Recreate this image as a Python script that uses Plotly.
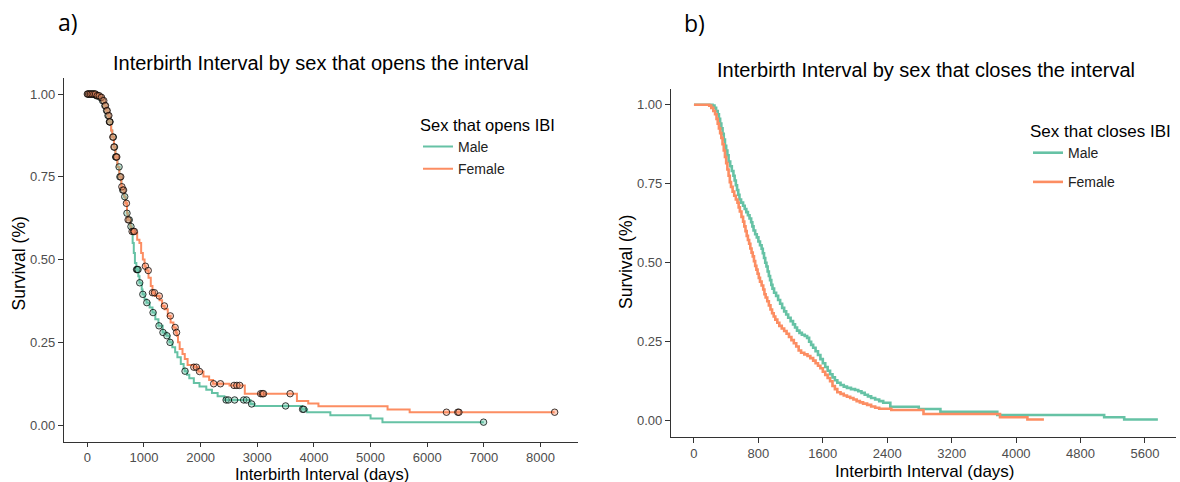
import numpy as np
import plotly.graph_objects as go

# ---------------- Panel a: sex that opens the interval ----------------
a_male_t = [0, 150, 220, 260, 300, 330, 360, 385, 420, 440, 470, 495, 530, 565, 600, 620, 650, 675, 700, 715,
            760, 780, 800, 820, 840, 865, 900, 920, 960, 975, 1010, 1045, 1100, 1150, 1200, 1255, 1330, 1400,
            1450, 1500, 1550, 1590, 1650, 1700, 1720, 1760, 1800, 1880, 1980, 2100, 2200, 2300, 2420, 2880,
            2950, 3790, 3880, 4290, 5000, 5210]
a_male_s = [1.0, 0.995, 0.99, 0.98, 0.965, 0.95, 0.935, 0.916, 0.89, 0.87, 0.84, 0.81, 0.78, 0.75, 0.72, 0.71,
            0.69, 0.67, 0.64, 0.62, 0.60, 0.59, 0.55, 0.52, 0.49, 0.47, 0.45, 0.43, 0.41, 0.395, 0.38, 0.37,
            0.355, 0.34, 0.32, 0.30, 0.28, 0.27, 0.25, 0.235, 0.22, 0.205, 0.185, 0.17, 0.163, 0.152, 0.142,
            0.127, 0.117, 0.107, 0.097, 0.087, 0.076, 0.064, 0.058, 0.048, 0.039, 0.03, 0.02, 0.009]
a_male_end = 7000
a_male_cens = [10, 40, 70, 100, 130, 160, 190, 230, 270, 310, 340, 365, 390, 400, 460, 480, 500, 560, 575, 625,
               660, 700, 740, 770, 870, 880, 895, 925, 980, 1050, 1160, 1265, 1335, 1405, 1460, 1725, 2450,
               2490, 2600, 2760, 2810, 2900, 3500, 3800, 3820, 6995]

a_female_t = [0, 150, 220, 260, 300, 330, 360, 385, 420, 440, 470, 495, 530, 565, 600, 620, 650, 675, 700, 715,
              760, 780, 835, 880, 920, 950, 980, 1010, 1030, 1080, 1120, 1150, 1190, 1275, 1320, 1365, 1420,
              1470, 1520, 1560, 1580, 1600, 1630, 1680, 1720, 1770, 1880, 1960, 2050, 2150, 2220, 2510, 2780,
              3700, 3900, 4080, 5300, 5690]
a_female_s = [1.0, 0.995, 0.99, 0.98, 0.965, 0.95, 0.935, 0.916, 0.89, 0.87, 0.84, 0.81, 0.78, 0.75, 0.72, 0.71,
              0.69, 0.67, 0.64, 0.62, 0.60, 0.585, 0.58, 0.56, 0.55, 0.52, 0.50, 0.48, 0.467, 0.445, 0.42, 0.40,
              0.39, 0.377, 0.36, 0.35, 0.33, 0.31, 0.295, 0.28, 0.27, 0.25, 0.23, 0.215, 0.20, 0.182, 0.175,
              0.162, 0.147, 0.136, 0.125, 0.12, 0.095, 0.073, 0.065, 0.057, 0.047, 0.039]
a_female_end = 8250
a_female_cens = [0, 25, 55, 85, 115, 145, 175, 210, 250, 290, 320, 350, 380, 395, 450, 470, 510, 520, 590, 610,
                 640, 690, 720, 790, 815, 830, 1025, 1075, 1150, 1185, 1270, 1360, 1465, 1550, 1575, 1880, 1925,
                 1980, 2230, 2350, 2590, 2640, 2690, 3060, 3090, 3110, 3580, 6340, 6540, 6560, 8250]

# ---------------- Panel b: sex that closes the interval ----------------
b_male_t = [0, 230, 255, 275, 295, 310, 325, 340, 355, 370, 385, 400, 415, 430, 450, 470, 490, 505, 520, 535,
            550, 565, 585, 610, 630, 650, 670, 690, 710, 725, 740, 760, 780, 800, 820, 840, 855, 870, 885, 900,
            915, 930, 945, 960, 975, 995, 1020, 1045, 1070, 1095, 1120, 1145, 1170, 1200, 1230, 1255, 1280,
            1310, 1340, 1375, 1405, 1430, 1455, 1480, 1510, 1540, 1570, 1600, 1630, 1660, 1690, 1720, 1750,
            1780, 1820, 1860, 1900, 1950, 2000, 2040, 2080, 2120, 2160, 2200, 2250, 2300, 2350, 2438, 2791,
            3060, 3766, 5093, 5342]
b_male_s = [1.0, 0.997, 0.99, 0.98, 0.97, 0.955, 0.94, 0.925, 0.908, 0.89, 0.87, 0.855, 0.84, 0.82, 0.805,
            0.79, 0.775, 0.76, 0.745, 0.73, 0.715, 0.70, 0.69, 0.68, 0.67, 0.66, 0.65, 0.64, 0.628, 0.615,
            0.602, 0.59, 0.58, 0.567, 0.555, 0.544, 0.53, 0.515, 0.50, 0.488, 0.472, 0.458, 0.445, 0.43,
            0.418, 0.405, 0.395, 0.382, 0.37, 0.357, 0.346, 0.336, 0.326, 0.315, 0.305, 0.295, 0.285, 0.278,
            0.272, 0.268, 0.262, 0.25, 0.24, 0.231, 0.22, 0.208, 0.195, 0.182, 0.17, 0.158, 0.147, 0.137,
            0.128, 0.12, 0.113, 0.108, 0.104, 0.10, 0.097, 0.093, 0.088, 0.082, 0.077, 0.072, 0.067, 0.062,
            0.057, 0.044, 0.037, 0.028, 0.018, 0.011, 0.004]
b_male_end = 5760

b_female_t = [0, 190, 215, 240, 262, 280, 295, 310, 325, 340, 355, 370, 385, 400, 415, 430, 445, 460, 480, 500,
              520, 540, 555, 570, 590, 610, 625, 640, 655, 670, 685, 700, 715, 730, 745, 760, 775, 790, 805,
              820, 840, 860, 875, 890, 910, 930, 950, 970, 990, 1010, 1035, 1060, 1090, 1120, 1150, 1180, 1210,
              1240, 1270, 1300, 1330, 1370, 1410, 1445, 1480, 1510, 1540, 1570, 1600, 1630, 1660, 1690, 1720,
              1750, 1780, 1820, 1860, 1900, 1940, 1980, 2020, 2060, 2100, 2150, 2200, 2250, 2300, 2450, 2850,
              3800, 4140]
b_female_s = [1.0, 0.997, 0.99, 0.98, 0.97, 0.955, 0.94, 0.925, 0.91, 0.895, 0.875, 0.855, 0.835, 0.815, 0.795,
              0.775, 0.755, 0.74, 0.725, 0.712, 0.70, 0.69, 0.675, 0.662, 0.645, 0.63, 0.615, 0.60, 0.585,
              0.572, 0.56, 0.545, 0.532, 0.52, 0.505, 0.49, 0.478, 0.465, 0.452, 0.44, 0.428, 0.415, 0.40,
              0.39, 0.378, 0.365, 0.352, 0.34, 0.33, 0.32, 0.31, 0.30, 0.292, 0.284, 0.275, 0.265, 0.255,
              0.245, 0.235, 0.222, 0.215, 0.21, 0.205, 0.198, 0.19, 0.182, 0.174, 0.166, 0.155, 0.145, 0.135,
              0.125, 0.11, 0.10, 0.09, 0.085, 0.08, 0.076, 0.072, 0.067, 0.062, 0.058, 0.054, 0.05, 0.045,
              0.041, 0.038, 0.034, 0.021, 0.011, 0.004]
b_female_end = 4345

x_ticks_a = [0, 1000, 2000, 3000, 4000, 5000, 6000, 7000, 8000]
x_ticks_b = [0, 800, 1600, 2400, 3200, 4000, 4800, 5600]
y_ticks = [0.0, 0.25, 0.5, 0.75, 1.0]
y_tick_labels = ["0.00", "0.25", "0.50", "0.75", "1.00"]

MALE = "#66C2A5"
FEMALE = "#FC8D62"
FONT = "Liberation Sans, Arial, sans-serif"
W, H = 1180, 482


def step_xy(ts, ss, end):
    return list(ts) + [end], list(ss) + [ss[-1]]


def at(ts, ss, times):
    ts = np.asarray(ts)
    ss = np.asarray(ss)
    idx = np.searchsorted(ts, np.asarray(times), side="right") - 1
    return ss[np.clip(idx, 0, len(ss) - 1)]


def rgba(hexc, a):
    h = hexc.lstrip("#")
    return f"rgba({int(h[0:2],16)},{int(h[2:4],16)},{int(h[4:6],16)},{a})"


fig = go.Figure()

# panel a lines
for name, ts, ss, end, col, grp in [("Male", a_male_t, a_male_s, a_male_end, MALE, "am"),
                                    ("Female", a_female_t, a_female_s, a_female_end, FEMALE, "af")]:
    x, y = step_xy(ts, ss, end)
    fig.add_trace(go.Scatter(x=x, y=y, mode="lines", line=dict(color=col, width=2, shape="hv"),
                             name=name, legend="legend", legendgroup=grp, xaxis="x", yaxis="y"))
# panel a censor marks
for ts, ss, cens, col in [(a_male_t, a_male_s, a_male_cens, MALE),
                          (a_female_t, a_female_s, a_female_cens, FEMALE)]:
    fig.add_trace(go.Scatter(x=cens, y=at(ts, ss, cens), mode="markers", showlegend=False,
                             marker=dict(symbol="circle", size=6.5, color=rgba(col, 0.4),
                                         line=dict(color="rgba(0,0,0,0.75)", width=1)),
                             xaxis="x", yaxis="y"))

# panel b lines
for name, ts, ss, end, col, grp in [("Male", b_male_t, b_male_s, b_male_end, MALE, "bm"),
                                    ("Female", b_female_t, b_female_s, b_female_end, FEMALE, "bf")]:
    x, y = step_xy(ts, ss, end)
    fig.add_trace(go.Scatter(x=x, y=y, mode="lines", line=dict(color=col, width=2.6, shape="hv"),
                             name=name, legend="legend2", legendgroup=grp, xaxis="x2", yaxis="y2"))


def px_x(p):
    return p / W


def px_y(p):
    return 1 - p / H


def axis_style(ticklen=5):
    return dict(showline=True, linecolor="#333333", linewidth=1.3, ticks="outside", ticklen=ticklen,
                tickwidth=1.1, tickcolor="#333333", showgrid=False, zeroline=False,
                tickfont=dict(family=FONT, size=13, color="#4d4d4d"))


fig.update_layout(
    width=W, height=H, margin=dict(l=0, r=0, t=0, b=0),
    paper_bgcolor="white", plot_bgcolor="white",
    font=dict(family=FONT, color="black"),
    xaxis=dict(domain=[px_x(64), px_x(578)], range=[-412, 8662], tickvals=x_ticks_a,
               anchor="y", **axis_style(4)),
    yaxis=dict(domain=[px_y(441.7), px_y(77.5)], range=[-0.05, 1.05], tickvals=y_ticks,
               ticktext=y_tick_labels, anchor="x", **axis_style()),
    xaxis2=dict(domain=[px_x(671), px_x(1176)], range=[-285, 5985], tickvals=x_ticks_b,
                anchor="y2", **axis_style()),
    yaxis2=dict(domain=[px_y(436.7), px_y(88.9)], range=[-0.0506, 1.05], tickvals=y_ticks,
                ticktext=y_tick_labels, anchor="x2", **axis_style()),
    legend=dict(x=px_x(418), y=px_y(109.5), xanchor="left", yanchor="top",
                title=dict(text="Sex that opens IBI", font=dict(family=FONT, size=16.5, color="black")),
                font=dict(family=FONT, size=14, color="#222"), itemwidth=30, tracegroupgap=1,
                bgcolor="rgba(0,0,0,0)"),
    legend2=dict(x=px_x(1028), y=px_y(115), xanchor="left", yanchor="top",
                 title=dict(text="Sex that closes IBI", font=dict(family=FONT, size=17, color="black")),
                 font=dict(family=FONT, size=14, color="#222"), itemwidth=30, tracegroupgap=8,
                 bgcolor="rgba(0,0,0,0)"),
)

annotations = [
    dict(text="a)", x=px_x(56), y=px_y(22), xanchor="left", yanchor="middle",
         font=dict(family="Open Sans, sans-serif", size=23, color="black")),
    dict(text="b)", x=px_x(682), y=px_y(23), xanchor="left", yanchor="middle",
         font=dict(family="Open Sans, sans-serif", size=23, color="black")),
    dict(text="Interbirth Interval by sex that opens the interval", x=px_x(321), y=px_y(63),
         xanchor="center", yanchor="middle", font=dict(family=FONT, size=20, color="black")),
    dict(text="Interbirth Interval by sex that closes the interval", x=px_x(926), y=px_y(70),
         xanchor="center", yanchor="middle", font=dict(family=FONT, size=20, color="black")),
    dict(text="Interbirth Interval (days)", x=px_x(322), y=px_y(474), xanchor="center", yanchor="middle",
         font=dict(family=FONT, size=16.5, color="black")),
    dict(text="Interbirth Interval (days)", x=px_x(925), y=px_y(471), xanchor="center", yanchor="middle",
         font=dict(family=FONT, size=17, color="black")),
    dict(text="Survival (%)", x=px_x(18.5), y=px_y(264), xanchor="center", yanchor="middle", textangle=-90,
         font=dict(family=FONT, size=17.5, color="black")),
    dict(text="Survival (%)", x=px_x(626), y=px_y(262), xanchor="center", yanchor="middle", textangle=-90,
         font=dict(family=FONT, size=17.5, color="black")),
]
for a in annotations:
    a.update(xref="paper", yref="paper", showarrow=False)
fig.update_layout(annotations=annotations)

fig.write_html("out.html")
